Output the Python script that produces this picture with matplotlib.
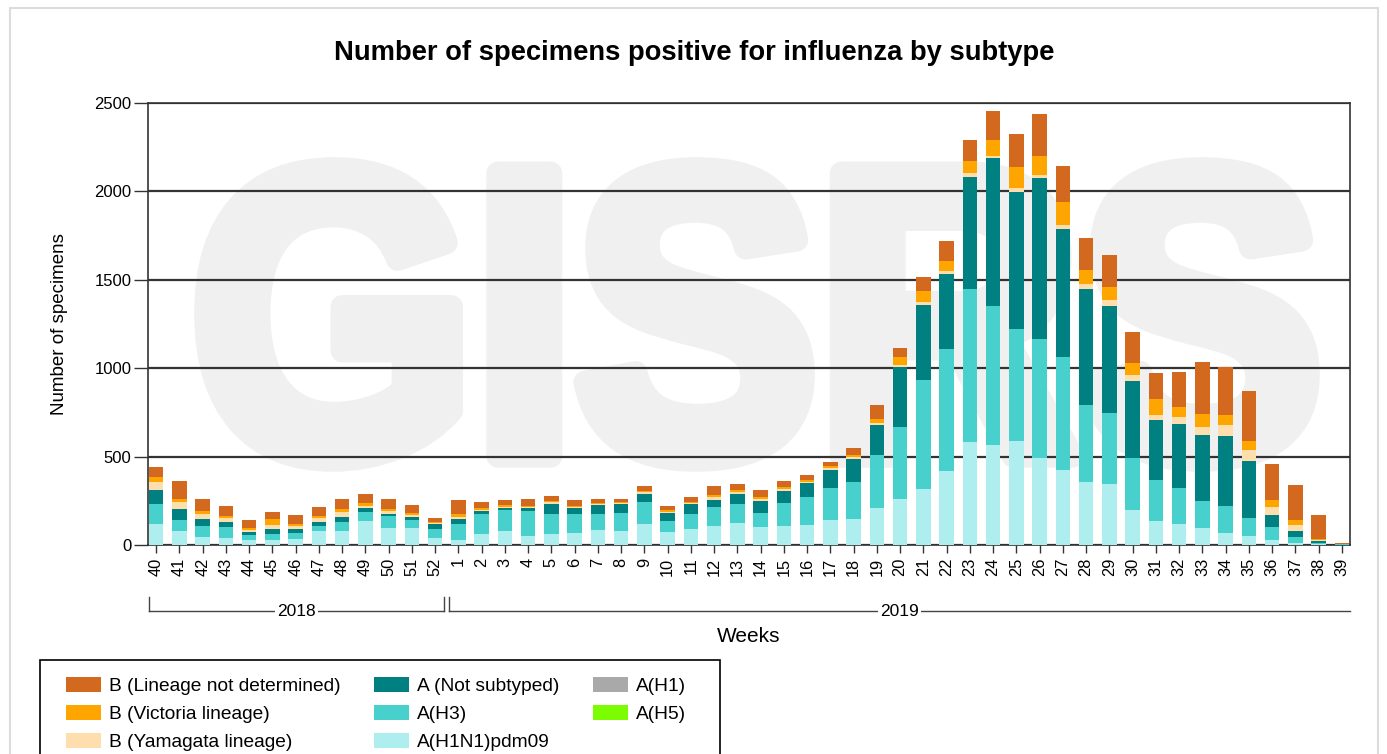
import numpy as np
import matplotlib
matplotlib.use('Agg')
import matplotlib.pyplot as plt
from matplotlib.patches import Patch, Rectangle, PathPatch
from matplotlib.textpath import TextPath
from matplotlib.font_manager import FontProperties
from matplotlib.transforms import Affine2D, blended_transform_factory

plt.rcParams['font.family'] = ['Liberation Sans', 'DejaVu Sans']

# weeks 40-52 of 2018, then 1-39 of 2019
weeks = [str(w) for w in range(40, 53)] + [str(w) for w in range(1, 40)]
years = ['2018', '2019']
weeks_per_year = [13, 39]

# stacked series, bottom to top
h1n1pdm09 = [119, 81, 48, 42, 29, 29, 35, 77, 77, 138, 96, 96, 42,
             29, 60, 78, 50, 60, 68, 83, 78, 116, 74, 90, 109, 123, 100, 109, 115, 139, 148,
             208, 261, 316, 420, 583, 563, 587, 492, 422, 356, 347, 199, 136, 119, 98, 70, 51, 28, 9, 4, 1]
h3 = [112, 58, 58, 60, 25, 35, 31, 29, 54, 48, 69, 48, 50,
      90, 116, 118, 141, 118, 110, 95, 101, 128, 59, 84, 105, 109, 82, 131, 158, 186, 211,
      303, 405, 619, 686, 866, 790, 634, 672, 644, 434, 402, 294, 229, 203, 152, 153, 100, 76, 38, 9, 3]
h5 = [0] * 52
h1 = [0] * 52
a_not_subtyped = [81, 67, 40, 29, 19, 25, 25, 25, 27, 25, 8, 13, 25,
                  29, 15, 14, 21, 56, 31, 46, 54, 46, 49, 57, 43, 57, 68, 68, 76, 102, 125,
                  170, 341, 422, 428, 634, 835, 777, 913, 723, 659, 604, 436, 341, 360, 375, 392, 322, 66, 32, 11, 3]
b_yamagata = [44, 38, 27, 19, 12, 25, 15, 19, 29, 12, 19, 12, 8,
              10, 6, 6, 4, 8, 6, 6, 4, 8, 6, 4, 12, 8, 10, 10, 8, 10, 12,
              9, 11, 15, 13, 19, 13, 19, 13, 19, 28, 34, 34, 32, 44, 42, 66, 63, 47, 34, 2, 0]
b_victoria = [29, 15, 19, 13, 12, 35, 13, 13, 15, 12, 13, 10, 6,
              15, 12, 8, 6, 6, 8, 8, 6, 8, 10, 8, 16, 12, 14, 10, 10, 10, 14,
              25, 47, 63, 59, 72, 91, 119, 112, 133, 80, 72, 64, 85, 57, 72, 57, 55, 38, 28, 9, 0]
b_not_determined = [58, 102, 69, 56, 42, 40, 52, 50, 58, 54, 56, 50, 23,
                    81, 35, 29, 37, 29, 29, 21, 17, 27, 20, 27, 51, 35, 35, 35, 29, 25, 39,
                    76, 51, 83, 114, 117, 165, 188, 237, 203, 180, 180, 180, 152, 193, 294, 269, 280, 205, 199, 136, 2]

series = [
    ('A(H1N1)pdm09', h1n1pdm09, '#AFEEEE'),
    ('A(H3)', h3, '#48D1CC'),
    ('A(H5)', h5, '#7CFC00'),
    ('A(H1)', h1, '#A9A9A9'),
    ('A (Not subtyped)', a_not_subtyped, '#008080'),
    ('B (Yamagata lineage)', b_yamagata, '#FFDEAD'),
    ('B (Victoria lineage)', b_victoria, '#FFA500'),
    ('B (Lineage not determined)', b_not_determined, '#D2691E'),
]
legend_order = ['B (Lineage not determined)', 'B (Victoria lineage)', 'B (Yamagata lineage)',
                'A (Not subtyped)', 'A(H3)', 'A(H1N1)pdm09', 'A(H1)', 'A(H5)']

W, H = 1387, 754
fig = plt.figure(figsize=(W / 100, H / 100), dpi=100)
fig.patch.set_facecolor('white')

# outer light frame
fig.add_artist(Rectangle((10 / W, -0.02), 1368 / W, 1 - 8 / H + 0.02, transform=fig.transFigure,
                         fill=False, edgecolor='#dcdcdc', lw=1.5))

ax = fig.add_axes([148 / W, 1 - 545 / H, (1349.5 - 148) / W, (545 - 103) / H])
ax.patch.set_alpha(0)

# watermark behind the axes, stroked to make it heavy
tp = TextPath((0, 0), 'GISRS', size=1, prop=FontProperties(family='Liberation Sans', weight='bold'))
ext = tp.get_extents()
inset = 12
x0, x1 = (194 + inset) / W, (1320 - inset) / W
y0, y1 = 1 - (472 - inset) / H, 1 - (157 + inset) / H
wm_tr = (Affine2D().translate(-ext.x0, -ext.y0)
         .scale((x1 - x0) / ext.width, (y1 - y0) / ext.height)
         .translate(x0, y0) + fig.transFigure)
fig.add_artist(PathPatch(tp, transform=wm_tr, facecolor='#f0f0f0', edgecolor='#f0f0f0',
                         lw=17, joinstyle='round', zorder=-5))

x = np.arange(len(weeks))
bottom = np.zeros(len(weeks))
for name, vals, col in series:
    vals = np.array(vals, dtype=float)
    ax.bar(x, vals, width=0.63, bottom=bottom, color=col, edgecolor='none', zorder=3)
    bottom += vals

ax.set_xlim(-0.35, len(weeks) - 0.67)
ax.set_ylim(0, 2500)
ax.set_yticks(np.arange(0, 2501, 500))
ax.set_xticks(x)
ax.set_xticklabels(weeks, rotation=90, fontsize=11.8)
ax.tick_params(axis='y', labelsize=12, length=10, width=1, pad=2, color='#333333')
ax.tick_params(axis='x', length=6, width=1, pad=3, color='#333333')
ax.yaxis.grid(True, color='#333333', lw=1.6)
ax.set_axisbelow(True)
for sp in ax.spines.values():
    sp.set_color('#333333')
    sp.set_linewidth(1.2)

fig.text(694 / W, 1 - 53 / H, 'Number of specimens positive for influenza by subtype',
         ha='center', va='center', fontsize=19.7, fontweight='bold')
fig.text(60 / W, 1 - 324 / H, 'Number of specimens', rotation=90, ha='center', va='center', fontsize=13.5)
fig.text(748.5 / W, 1 - 637 / H, 'Weeks', ha='center', va='center', fontsize=15)

# year brackets under the week labels
tr = blended_transform_factory(ax.transData, fig.transFigure)
y_top, y_line = 1 - 597 / H, 1 - 611 / H
left, right = ax.get_xlim()
start = 0
for i, (yr, n) in enumerate(zip(years, weeks_per_year)):
    a = left + 0.05 if i == 0 else start - 0.4
    b = start + n - 0.6 if i < len(years) - 1 else right
    ax.plot([a, b], [y_line, y_line], color='#444444', lw=1, transform=tr, clip_on=False)
    ax.plot([a, a], [y_top, y_line], color='#444444', lw=1, transform=tr, clip_on=False)
    if i < len(years) - 1:
        ax.plot([b, b], [y_top, y_line], color='#444444', lw=1, transform=tr, clip_on=False)
    ax.text((a + b) / 2, y_line, yr, transform=tr, ha='center', va='center', fontsize=12.5,
            bbox=dict(facecolor='white', edgecolor='none', pad=1.5), zorder=5)
    start += n

# legend with its own frame running off the bottom
by_name = {name: col for name, _, col in series}
handles = [Patch(facecolor=by_name[n], edgecolor='none') for n in legend_order]
fig.add_artist(Rectangle((40 / W, -0.05), 680 / W, 0.05 + 1 - 660 / H, transform=fig.transFigure,
                         fill=False, edgecolor='black', lw=1.2))
fig.legend(handles, legend_order, ncol=3, loc='upper left', bbox_to_anchor=(66 / W, 1 - 677 / H),
           frameon=False, fontsize=13.8, handlelength=1.8, handleheight=0.85, handletextpad=0.45,
           columnspacing=1.75, borderpad=0, borderaxespad=0, labelspacing=0.5)

fig.savefig('out.png', dpi=100)
